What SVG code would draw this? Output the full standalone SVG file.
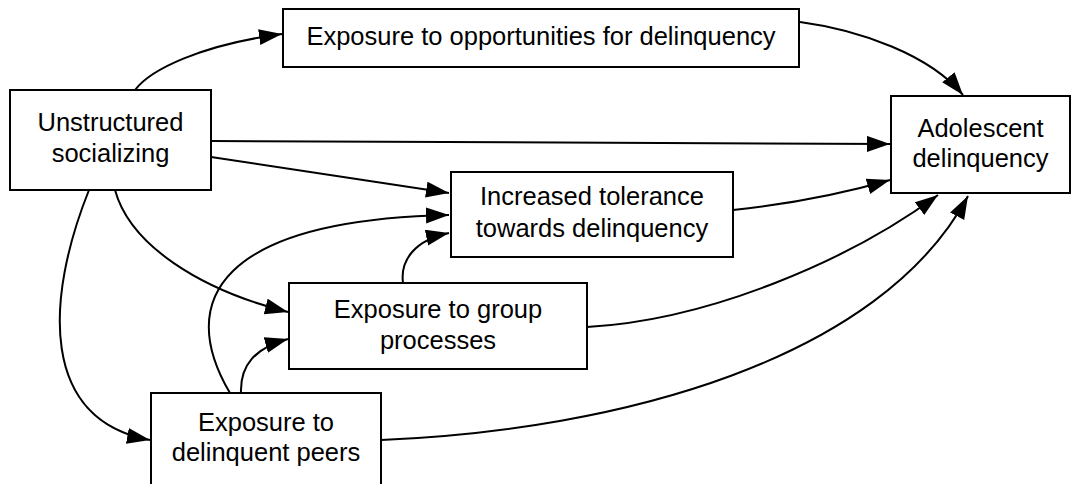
<svg xmlns="http://www.w3.org/2000/svg" width="1071" height="484" viewBox="0 0 1071 484">
  <style>
    .box { fill: #ffffff; stroke: #000000; stroke-width: 2; }
    .label { font-family: "Liberation Sans", Arial, sans-serif; font-size: 25.5px; fill: #000000; text-anchor: middle; }
    .edge { fill: none; stroke: #000000; stroke-width: 2; marker-end: url(#arrow); }
  </style>
  <defs>
    <marker id="arrow" markerUnits="userSpaceOnUse" markerWidth="25" markerHeight="18" refX="23" refY="8" orient="auto">
      <path d="M0,0 L23,8 L0,16 Z" fill="#000000"/>
    </marker>
  </defs>
  <rect width="1071" height="484" fill="#ffffff"/>

  <g id="connectors">
    <!-- Unstructured socializing -> Exposure to opportunities -->
    <path class="edge" d="M135,90 C150,70 200,45 282,34"/>
    <!-- Exposure to opportunities -> Adolescent delinquency -->
    <path class="edge" d="M800,22 C860,30 930,55 963,95"/>
    <!-- Unstructured socializing -> Adolescent delinquency -->
    <path class="edge" d="M211,141 L890,144"/>
    <!-- Unstructured socializing -> Increased tolerance -->
    <path class="edge" d="M211,157 L449,193"/>
    <!-- Unstructured socializing -> Exposure to group processes -->
    <path class="edge" d="M115,190 C130,245 200,290 288,312"/>
    <!-- Unstructured socializing -> Exposure to delinquent peers -->
    <path class="edge" d="M89,190 C45,300 40,420 150,440"/>
    <!-- Delinquent peers -> Group processes -->
    <path class="edge" d="M241,393 C240,365 255,348 288,339"/>
    <!-- Delinquent peers -> Increased tolerance -->
    <path class="edge" d="M230,393 C175,300 220,220 449,215"/>
    <!-- Group processes -> Increased tolerance -->
    <path class="edge" d="M403,283 C400,260 415,240 449,233"/>
    <!-- Increased tolerance -> Adolescent delinquency -->
    <path class="edge" d="M733,210 C790,204 845,193 890,180"/>
    <!-- Group processes -> Adolescent delinquency -->
    <path class="edge" d="M587,327 C710,320 850,260 938,195"/>
    <!-- Delinquent peers -> Adolescent delinquency -->
    <path class="edge" d="M381,440 C620,430 880,360 968,196"/>
  </g>

  <g id="unstructured">
    <rect class="box" x="10" y="90" width="201" height="100"/>
    <text class="label" x="110.5" y="131">Unstructured</text>
    <text class="label" x="110.5" y="162">socializing</text>
  </g>

  <g id="opportunities">
    <rect class="box" x="283" y="9" width="516" height="58"/>
    <text class="label" x="541" y="45">Exposure to opportunities for delinquency</text>
  </g>

  <g id="adolescent">
    <rect class="box" x="891" y="96" width="179" height="97"/>
    <text class="label" x="980.5" y="137">Adolescent</text>
    <text class="label" x="980.5" y="167">delinquency</text>
  </g>

  <g id="tolerance">
    <rect class="box" x="451" y="172" width="282" height="85"/>
    <text class="label" x="592" y="205">Increased tolerance</text>
    <text class="label" x="592" y="236.5">towards delinquency</text>
  </g>

  <g id="group">
    <rect class="box" x="289" y="283" width="298" height="86"/>
    <text class="label" x="438" y="318">Exposure to group</text>
    <text class="label" x="438" y="349">processes</text>
  </g>

  <g id="peers">
    <rect class="box" x="151" y="393" width="230" height="100"/>
    <text class="label" x="266" y="431">Exposure to</text>
    <text class="label" x="266" y="461">delinquent peers</text>
  </g>
</svg>
